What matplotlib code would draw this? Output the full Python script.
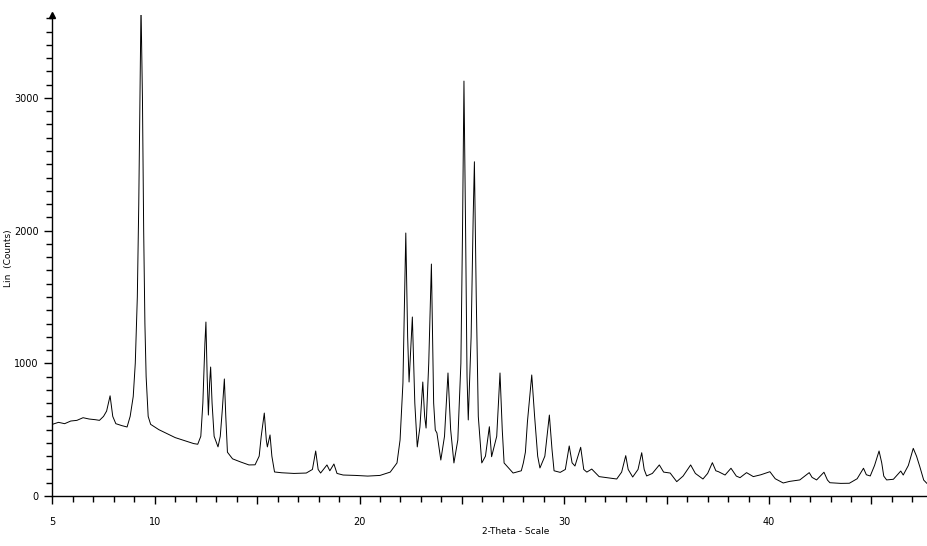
import numpy as np
import matplotlib
matplotlib.use("Agg")
import matplotlib.pyplot as plt
from matplotlib.ticker import FixedLocator, MultipleLocator

# XRD pattern (peaks, valleys, shoulders)
two_theta = [
    5.00, 5.30, 5.60, 5.90, 6.20, 6.50, 6.80, 7.10, 7.30, 7.50, 7.65, 7.82, 7.95,
    8.10, 8.40, 8.65, 8.80, 8.95, 9.05, 9.15, 9.22, 9.28, 9.33, 9.40, 9.46, 9.52,
    9.58, 9.68, 9.80, 10.2, 10.6, 11.0, 11.5, 11.9, 12.1, 12.25, 12.35, 12.45,
    12.50, 12.56, 12.62, 12.68, 12.73, 12.80, 12.90, 13.09, 13.20, 13.30, 13.40,
    13.47, 13.55, 13.80, 14.2, 14.6, 14.9, 15.1, 15.2, 15.35, 15.45, 15.50, 15.63,
    15.72, 15.85, 16.2, 16.8, 17.4, 17.7, 17.86, 17.98, 18.1, 18.41, 18.55, 18.75,
    18.9, 19.2, 19.8, 20.4, 21.0, 21.5, 21.83, 21.98, 22.12, 22.26, 22.35, 22.42,
    22.58, 22.70, 22.82, 22.95, 23.09, 23.18, 23.25, 23.38, 23.51, 23.62, 23.70,
    23.78, 23.97, 24.15, 24.32, 24.45, 24.61, 24.80, 24.95, 25.03, 25.10, 25.18,
    25.25, 25.31, 25.45, 25.55, 25.61, 25.70, 25.80, 25.97, 26.15, 26.34, 26.45,
    26.70, 26.86, 26.97, 27.06, 27.5, 27.9, 28.0, 28.1, 28.2, 28.41, 28.55, 28.70,
    28.81, 29.05, 29.27, 29.40, 29.50, 29.80, 30.05, 30.24, 30.38, 30.52, 30.80,
    30.95, 31.10, 31.34, 31.70, 32.00, 32.56, 32.80, 33.00, 33.12, 33.34, 33.60,
    33.78, 33.90, 34.02, 34.30, 34.64, 34.85, 35.17, 35.49, 35.80, 36.17, 36.40,
    36.77, 37.00, 37.23, 37.40, 37.53, 37.85, 38.14, 38.40, 38.58, 38.90, 39.23,
    39.60, 40.04, 40.30, 40.69, 41.00, 41.50, 41.96, 42.10, 42.32, 42.68, 42.85,
    42.97, 43.50, 43.92, 44.30, 44.61, 44.75, 44.94, 45.15, 45.37, 45.50, 45.60,
    45.74, 46.07, 46.43, 46.55, 46.80, 47.04, 47.20, 47.36, 47.55, 47.70,
]
counts = [
    540, 555, 545, 565, 570, 590, 580, 575, 570, 600, 640, 755, 600,
    545, 530, 520, 600, 750, 1000, 1500, 2200, 3000, 3700, 3000, 2000, 1300,
    900, 600, 540, 500, 470, 440, 415, 395, 390, 450, 700, 1150,
    1311, 900, 610, 850, 972, 700, 450, 370, 450, 650, 882,
    600, 330, 280, 256, 234, 235, 300, 450, 625, 420, 370, 460,
    300, 181, 175, 170, 173, 200, 339, 200, 173, 234, 190, 241,
    170, 158, 155, 150, 155, 180, 249, 422, 851, 1982, 1200, 859,
    1349, 700, 370, 520, 859, 600, 512, 1000, 1748, 700, 497,
    475, 271, 450, 927, 500, 249, 422, 1000, 2000, 3127, 2000,
    900, 573, 1200, 2100, 2519, 1500, 600, 249, 300, 522, 296,
    450, 927, 500, 249, 173, 190, 249, 330, 560, 912, 600, 300,
    211, 300, 610, 350, 190, 178, 200, 377, 250, 226, 367,
    200, 180, 203, 146, 140, 128, 180, 304, 200, 143, 200,
    326, 200, 151, 170, 234, 180, 173, 108, 150, 234, 170,
    128, 170, 251, 190, 183, 158, 209, 150, 138, 176, 146,
    160, 183, 130, 98, 110, 121, 176, 140, 121, 179, 120,
    100, 95, 96, 130, 209, 160, 151, 230, 339, 250, 150,
    121, 126, 188, 158, 230, 359, 300, 221, 120, 96,
]

x_major = [5, 10, 15, 20, 25, 30, 35, 40, 45]
x_labels = ["5", "10", "", "20", "", "30", "", "40", ""]
y_major = [0, 1000, 2000, 3000]

fig = plt.figure(figsize=(9.28, 5.46), dpi=100)
ax = fig.add_axes([0.0564, 0.0916, 0.9436, 0.8809])

ax.plot(two_theta, counts, color="black", linewidth=0.7)

ax.set_xlim(5, 47.76)
ax.set_ylim(0, 3625)

for s in ["top", "right"]:
    ax.spines[s].set_visible(False)
for s in ["left", "bottom"]:
    ax.spines[s].set_linewidth(1.0)

ax.xaxis.set_major_locator(FixedLocator(x_major))
ax.set_xticklabels(x_labels)
ax.xaxis.set_minor_locator(MultipleLocator(1))
ax.yaxis.set_major_locator(FixedLocator(y_major))
ax.yaxis.set_minor_locator(MultipleLocator(100))

ax.tick_params(axis="x", which="major", length=6, width=1, pad=9, labelsize=7)
ax.tick_params(axis="x", which="minor", length=4, width=1)
ax.tick_params(axis="y", which="major", length=6, width=1, pad=4, labelsize=7)
ax.tick_params(axis="y", which="minor", length=4, width=1)

# arrow head on top of the y axis
ax.plot([0], [1], marker="^", markersize=4, color="black",
        transform=ax.transAxes, clip_on=False)

fig.text(516 / 928, 1 - 532 / 546, "2-Theta - Scale", ha="center", va="center",
         fontsize=6.5)
fig.text(9 / 928, 1 - 258 / 546, "Lin  (Counts)", ha="center", va="center",
         rotation=90, fontsize=6.5)

fig.savefig("out.png", dpi=100)
